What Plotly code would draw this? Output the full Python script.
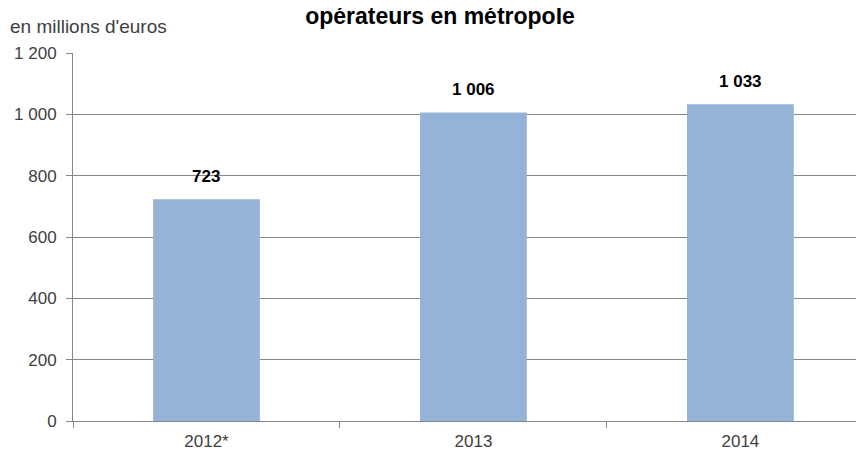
#!/usr/bin/env python
"""
Montant annuel - opérateurs en métropole (histogramme simple)
"""
import plotly.graph_objects as go

annees = ['2012*', '2013', '2014']
montants = [723, 1006, 1033]
ticks_y = [0, 200, 400, 600, 800, 1000, 1200]

BLEU = '#95b3d7'
GRIS = '#868686'
POLICE = 'Liberation Sans, Arial, sans-serif'

# la page html garde une marge de 8 px autour de la figure
L, T, R, B = 65, 45, 8, 41
LARGEUR = 864 - L - R
HAUTEUR = 454 - T - B


def erstelle_chart():
    fig = go.Figure(go.Bar(
        x=annees, y=montants,
        marker={'color': BLEU, 'line': {'width': 0}},
        cliponaxis=False,
    ))
    # etiquettes de valeurs au-dessus des barres (x = index de categorie,
    # sinon '2013' est lu comme un nombre)
    for i, v in enumerate(montants):
        fig.add_annotation(x=i, y=v, text=f'<b>{v:,}</b>'.replace(',', ' '),
                           showarrow=False, yanchor='bottom', yshift=11,
                           font={'size': 17, 'color': '#000000', 'family': POLICE})
    fig.add_annotation(text="en millions d'euros", xref='paper', yref='paper',
                       x=-L / LARGEUR, y=1 + 39 / HAUTEUR,
                       xanchor='left', yanchor='top', showarrow=False,
                       font={'size': 19, 'color': '#404040', 'family': POLICE})
    fig.update_layout(
        width=864, height=454,
        margin={'l': L, 'r': R, 't': T, 'b': B},
        paper_bgcolor='white', plot_bgcolor='white',
        bargap=0.6, showlegend=False,
        separators=', ',
        font={'family': POLICE, 'size': 17, 'color': '#404040'},
        title={'text': '<b>opérateurs en métropole</b>', 'x': 0.5, 'xanchor': 'center',
               'y': 1, 'yanchor': 'top', 'pad': {'t': 0},
               'font': {'size': 23, 'color': '#000000', 'family': POLICE}},
    )
    fig.update_xaxes(type='category', range=[-0.5, 2.463], showline=True,
                     linecolor=GRIS, linewidth=1,
                     ticks='outside', tickson='boundaries', ticklen=6, tickcolor=GRIS,
                     showgrid=False, automargin=False, ticklabelstandoff=5,
                     tickfont={'size': 17, 'color': '#404040'})
    fig.update_yaxes(range=[0, 1200], tickvals=ticks_y, showline=True, linecolor=GRIS,
                     linewidth=1, ticks='outside', ticklen=6, tickcolor=GRIS,
                     showgrid=True, gridcolor=GRIS, gridwidth=1, zeroline=False,
                     automargin=False, tickformat=',d', ticklabelstandoff=6,
                     tickfont={'size': 17, 'color': '#404040'})
    fig.write_html('out.html')


if __name__ == '__main__':
    erstelle_chart()
